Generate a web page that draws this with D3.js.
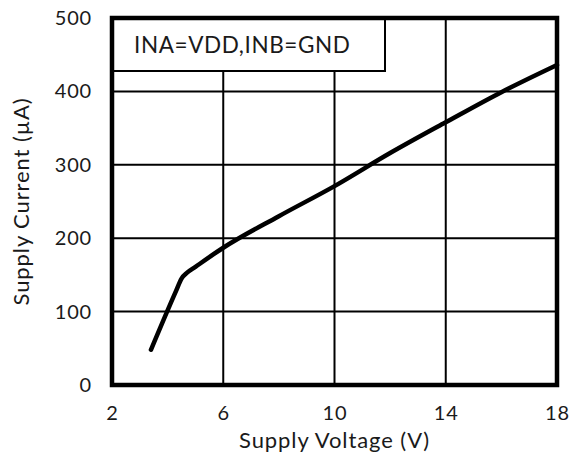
<!DOCTYPE html>
<html><head><meta charset="utf-8">
<script src="https://cdn.jsdelivr.net/npm/d3@7"></script>
<style>body{margin:0;background:#fff}svg{display:block}text{font-family:Lato,sans-serif;fill:#1a1a1a}</style>
</head><body><svg id="c" width="576" height="457"></svg>
<script>
const voltage = [3.4, 4.3, 4.5, 4.7, 5.0, 6, 8, 10, 12, 14, 16, 18];
const current = [48, 128, 145, 153, 161, 187, 230, 271, 316, 358, 399, 436];
const xTicks = [2, 6, 10, 14, 18];
const yTicks = [0, 100, 200, 300, 400, 500];
const legendText = "INA=VDD,INB=GND";
const xTitle = "Supply Voltage (V)";
const yTitle = "Supply Current (µA)";

const svg = d3.select("#c");
const L = 112, R = 557, T = 18, B = 385;
const x = d3.scaleLinear().domain([2, 18]).range([L, R]);
const y = d3.scaleLinear().domain([0, 500]).range([B, T]);
const FF = "Lato, sans-serif";

const grid = svg.append("g").attr("stroke", "#000").attr("stroke-width", 2);
grid.selectAll(".gx").data(xTicks.slice(1, -1)).join("line")
  .attr("x1", d => x(d)).attr("x2", d => x(d)).attr("y1", T).attr("y2", B);
grid.selectAll(".gy").data(yTicks.slice(1, -1)).join("line")
  .attr("y1", d => y(d)).attr("y2", d => y(d)).attr("x1", L).attr("x2", R);

// legend box
const lb = svg.append("g");
lb.append("rect").attr("x", L).attr("y", T).attr("width", 385 - L).attr("height", 71 - T)
  .attr("fill", "#fff").attr("stroke", "#000").attr("stroke-width", 2);
lb.append("text").attr("x", 134).attr("y", 53).attr("font-size", 22.5)
  .attr("letter-spacing", 0.6).text(legendText);

const line = d3.line().x((d, i) => x(voltage[i])).y(d => y(d)).curve(d3.curveMonotoneX);
svg.append("path").attr("d", line(current)).attr("fill", "none")
  .attr("stroke", "#000").attr("stroke-width", 4.5).attr("stroke-linecap", "round").attr("stroke-linejoin", "round");

svg.append("rect").attr("x", L).attr("y", T).attr("width", R - L).attr("height", B - T)
  .attr("fill", "none").attr("stroke", "#000").attr("stroke-width", 4.5);

const xa = svg.append("g").attr("transform", `translate(0,${B})`)
  .call(d3.axisBottom(x).tickValues(xTicks).tickSize(0).tickPadding(21));
xa.select(".domain").remove();
xa.selectAll("text").attr("font-size", 20).attr("letter-spacing", 0.8).style("font-family", FF).attr("fill", "#1a1a1a");

const ya = svg.append("g").attr("transform", `translate(${L},0)`)
  .call(d3.axisLeft(y).tickValues(yTicks).tickSize(0).tickPadding(20));
ya.select(".domain").remove();
ya.selectAll("text").attr("font-size", 20).attr("letter-spacing", 0.8).style("font-family", FF).attr("fill", "#1a1a1a");

svg.append("text").attr("x", x(10)).attr("y", 448).attr("text-anchor", "middle")
  .attr("font-size", 22).attr("letter-spacing", 0.9).text(xTitle);
svg.append("text").attr("transform", `translate(29,${(T + B) / 2}) rotate(-90)`)
  .attr("text-anchor", "middle").attr("font-size", 22).attr("letter-spacing", 0.9).text(yTitle);
</script></body></html>
